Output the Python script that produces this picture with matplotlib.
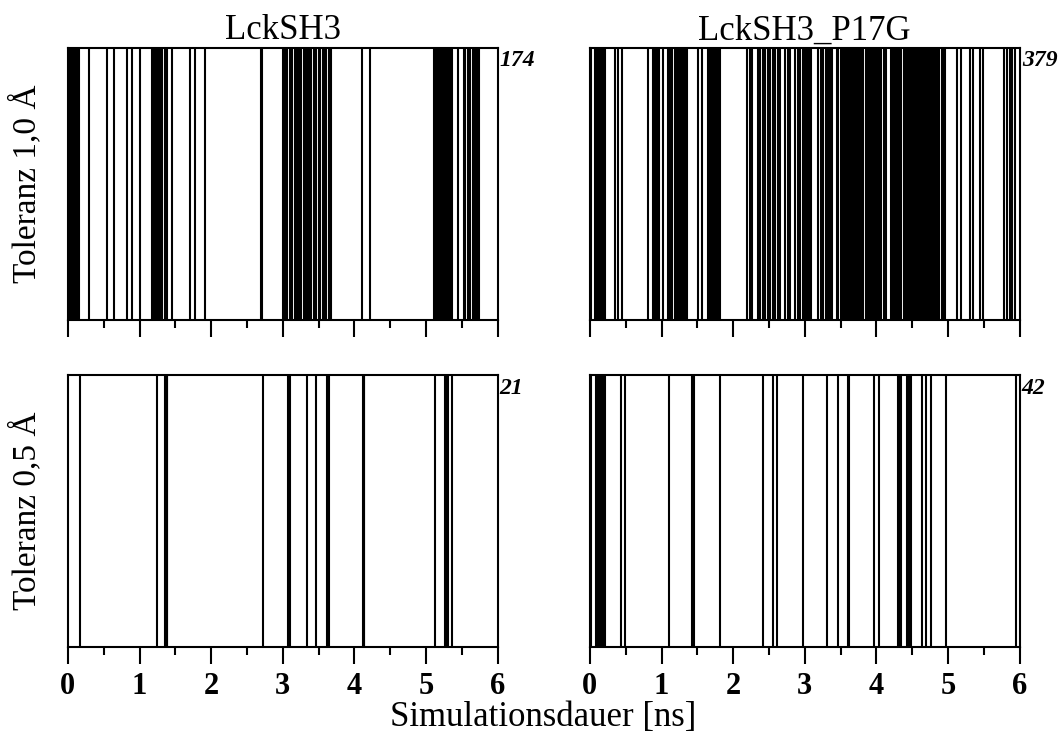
import matplotlib
matplotlib.use('Agg')
import matplotlib.pyplot as plt
from matplotlib.ticker import MultipleLocator

plt.rcParams['font.family'] = ['Liberation Serif', 'DejaVu Serif']

# event times in ns
lck_10 = [0.01, 0.03, 0.05, 0.07, 0.09, 0.11, 0.13, 0.15,
          0.29, 0.55, 0.64, 0.83, 0.90, 1.00,
          1.18, 1.20, 1.22, 1.25, 1.27, 1.30, 1.32, 1.35, 1.39, 1.46,
          1.70, 1.77, 1.91,
          2.69, 2.71,
          3.01, 3.03, 3.06, 3.10, 3.13, 3.17, 3.20, 3.23, 3.26, 3.29, 3.31, 3.34,
          3.37, 3.40, 3.43, 3.47, 3.50, 3.52, 3.56, 3.58, 3.61, 3.64, 3.67,
          4.10, 4.22,
          5.11, 5.13, 5.15, 5.18, 5.20, 5.22, 5.25, 5.27, 5.30, 5.32, 5.35, 5.37,
          5.44,
          5.53, 5.55, 5.58, 5.60, 5.62, 5.65, 5.67, 5.70, 5.72, 5.74]

p17g_10 = [0.02, 0.07, 0.09, 0.11, 0.13, 0.15, 0.17, 0.19, 0.21,
           0.35, 0.39, 0.45,
           0.81, 0.88, 0.91, 0.94, 0.97, 1.02, 1.09, 1.12, 1.15, 1.19, 1.21, 1.24,
           1.27, 1.30, 1.33, 1.36,
           1.51, 1.56, 1.65, 1.67, 1.70, 1.72, 1.75, 1.77, 1.80, 1.82,
           2.20, 2.23, 2.27, 2.34, 2.38, 2.41, 2.45, 2.48, 2.52, 2.56, 2.59, 2.62,
           2.66, 2.73, 2.77, 2.80, 2.87, 2.90, 2.94, 2.97,
           3.00, 3.03, 3.06, 3.09, 3.19, 3.22, 3.26, 3.29, 3.32, 3.35, 3.38,
           3.45, 3.47, 3.50, 3.52, 3.55, 3.57, 3.60, 3.62, 3.65, 3.67, 3.70, 3.72,
           3.75, 3.77, 3.80, 3.82, 3.85, 3.87, 3.90, 3.92, 3.95, 3.97, 4.00, 4.02,
           4.05, 4.07, 4.10, 4.14, 4.20, 4.23, 4.26, 4.29, 4.32, 4.35, 4.38,
           4.41, 4.43, 4.46, 4.48, 4.51, 4.53, 4.56, 4.58, 4.61, 4.63, 4.66, 4.68,
           4.71, 4.73, 4.76, 4.78, 4.81, 4.83, 4.86, 4.88, 4.91, 4.93, 4.96,
           5.13, 5.18, 5.31, 5.35, 5.45, 5.49, 5.78, 5.82, 5.86, 5.89, 5.93]

lck_05 = [0.17, 1.24, 1.36, 1.38, 1.39, 2.73, 3.07, 3.09, 3.10, 3.34, 3.46,
          3.62, 3.65, 4.12, 4.13, 4.14, 5.12, 5.26, 5.30, 5.31, 5.37]

p17g_05 = [0.02, 0.09, 0.11, 0.13, 0.15, 0.17, 0.19, 0.21, 0.44, 0.49, 1.10,
           1.43, 1.45, 1.81, 2.42, 2.56, 2.61, 2.98, 3.31, 3.47, 3.60, 3.62,
           3.96, 4.03, 4.30, 4.32, 4.34, 4.43, 4.46, 4.49, 4.64, 4.69, 4.76,
           4.97, 5.95]

titles = ['LckSH3', 'LckSH3_P17G']
row_labels = ['Toleranz 1,0 Å', 'Toleranz 0,5 Å']
counts = [['174', '379'], ['21', '42']]
events = [[lck_10, p17g_10], [lck_05, p17g_05]]

fig = plt.figure(figsize=(10.61, 7.35), dpi=100)
lefts = [0.064, 0.556]
bottoms = [0.565, 0.120]
w, h = 0.405, 0.370

for r in range(2):
    for c in range(2):
        ax = fig.add_axes([lefts[c], bottoms[r], w, h])
        ax.vlines(events[r][c], 0, 1, color='black', lw=1.5)
        ax.set_xlim(0, 6)
        ax.set_ylim(0, 1)
        ax.set_yticks([])
        ax.xaxis.set_major_locator(MultipleLocator(1))
        ax.xaxis.set_minor_locator(MultipleLocator(0.5))
        ax.tick_params(axis='x', which='major', length=12, width=1.5, direction='out', pad=6)
        ax.tick_params(axis='x', which='minor', length=6, width=1.5, direction='out')
        for s in ax.spines.values():
            s.set_linewidth(1.5)
        if r == 0:
            ax.set_xticklabels([])
            ax.set_title(titles[c], fontsize=25, pad=6)
        else:
            for lab in ax.get_xticklabels():
                lab.set_fontweight('bold')
                lab.set_fontsize(22)
        ax.text(1.005, 0.99, counts[r][c], transform=ax.transAxes, ha='left', va='top',
                fontsize=17, fontweight='bold', fontstyle='italic')

fig.text(0.024, 0.75, row_labels[0], rotation=90, ha='center', va='center', fontsize=24)
fig.text(0.024, 0.305, row_labels[1], rotation=90, ha='center', va='center', fontsize=24)
fig.text(0.512, 0.024, 'Simulationsdauer [ns]', ha='center', va='center', fontsize=25)

fig.savefig('out.png', dpi=100)
